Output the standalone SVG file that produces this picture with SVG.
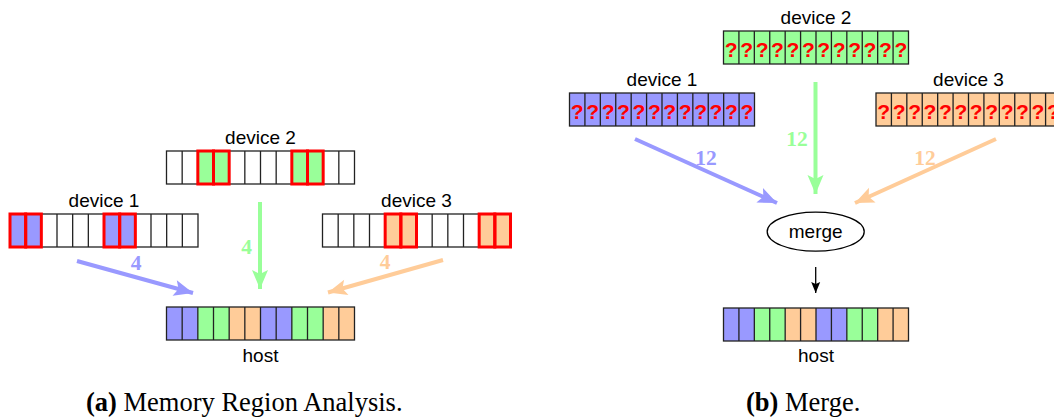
<svg xmlns="http://www.w3.org/2000/svg" xmlns:xlink="http://www.w3.org/1999/xlink" width="1054" height="419" viewBox="0 0 1054 419">
<style>
  .lbl { font-family: "Liberation Sans", Arial, sans-serif; font-size: 19px; fill: #000; text-anchor: middle; }
  .num { font-family: "Liberation Serif", "Times New Roman", serif; font-size: 21.5px; font-weight: bold; text-anchor: middle; }
  .q { font-family: "Liberation Sans", Arial, sans-serif; font-size: 21px; font-weight: bold; fill: #ff0000; text-anchor: middle; }
  .cap { font-family: "Liberation Serif", "Times New Roman", serif; font-size: 26.5px; fill: #000; }
  .grid { fill: none; stroke: #222; stroke-width: 1.3; }
  .hl { fill: none; stroke: #ff0000; stroke-width: 3; }
  .b { fill: #9999ff; }
  .g { fill: #99ff99; }
  .o { fill: #ffcc99; }
  .ab { stroke: #9999ff; stroke-width: 4; fill: none; marker-end: url(#hb); }
  .ag { stroke: #99ff99; stroke-width: 4; fill: none; marker-end: url(#hg); }
  .ao { stroke: #ffcc99; stroke-width: 4; fill: none; marker-end: url(#ho); }
  .ak { stroke: #000; stroke-width: 1.3; fill: none; marker-end: url(#hk); }
</style>
<defs>
  <marker id="hb" markerUnits="userSpaceOnUse" markerWidth="20" markerHeight="16" refX="19" refY="8" orient="auto" overflow="visible"><path d="M0,0 L19,8 L0,16 L4,8 z" fill="#9999ff"/></marker>
  <marker id="hg" markerUnits="userSpaceOnUse" markerWidth="20" markerHeight="16" refX="19" refY="8" orient="auto" overflow="visible"><path d="M0,0 L19,8 L0,16 L4,8 z" fill="#99ff99"/></marker>
  <marker id="ho" markerUnits="userSpaceOnUse" markerWidth="20" markerHeight="16" refX="19" refY="8" orient="auto" overflow="visible"><path d="M0,0 L19,8 L0,16 L4,8 z" fill="#ffcc99"/></marker>
  <marker id="hk" markerUnits="userSpaceOnUse" markerWidth="12" markerHeight="10" refX="11" refY="4.5" orient="auto" overflow="visible"><path d="M0,0 L11,4.5 L0,9 L2,4.5 z" fill="#000"/></marker>
  <g id="gridL">
    <rect x="0" y="0" width="188" height="33" class="grid"/>
    <path class="grid" d="M15.67,0V33M31.33,0V33M47,0V33M62.67,0V33M78.33,0V33M94,0V33M109.67,0V33M125.33,0V33M141,0V33M156.67,0V33M172.33,0V33"/>
  </g>
  <g id="gridR">
    <rect x="0" y="0" width="185" height="33" class="grid"/>
    <path class="grid" d="M15.42,0V33M30.83,0V33M46.25,0V33M61.67,0V33M77.08,0V33M92.5,0V33M107.92,0V33M123.33,0V33M138.75,0V33M154.17,0V33M169.58,0V33"/>
  </g>
  <text id="qs" class="q" x="7.71 23.13 38.54 53.96 69.38 84.79 100.21 115.63 131.04 146.46 161.88 177.29" y="26">????????????</text>
</defs>

<!-- Panel (a) -->
<g id="a-device2" transform="translate(166.5,151)">
  <rect class="g" x="31.33" y="0" width="31.34" height="33"/>
  <rect class="g" x="125.33" y="0" width="31.34" height="33"/>
  <use href="#gridL"/>
  <rect class="hl" x="31.33" y="0" width="15.67" height="33"/>
  <rect class="hl" x="47" y="0" width="15.67" height="33"/>
  <rect class="hl" x="125.33" y="0" width="15.67" height="33"/>
  <rect class="hl" x="141" y="0" width="15.67" height="33"/>
  <text class="lbl" x="94" y="-7">device 2</text>
</g>
<g id="a-device1" transform="translate(10,214)">
  <rect class="b" x="0" y="0" width="31.33" height="33"/>
  <rect class="b" x="94" y="0" width="31.33" height="33"/>
  <use href="#gridL"/>
  <rect class="hl" x="0" y="0" width="15.67" height="33"/>
  <rect class="hl" x="15.67" y="0" width="15.67" height="33"/>
  <rect class="hl" x="94" y="0" width="15.67" height="33"/>
  <rect class="hl" x="109.67" y="0" width="15.67" height="33"/>
  <text class="lbl" x="94" y="-7">device 1</text>
</g>
<g id="a-device3" transform="translate(322.5,214)">
  <rect class="o" x="62.67" y="0" width="31.33" height="33"/>
  <rect class="o" x="156.67" y="0" width="31.33" height="33"/>
  <use href="#gridL"/>
  <rect class="hl" x="62.67" y="0" width="15.67" height="33"/>
  <rect class="hl" x="78.33" y="0" width="15.67" height="33"/>
  <rect class="hl" x="156.67" y="0" width="15.67" height="33"/>
  <rect class="hl" x="172.33" y="0" width="15.67" height="33"/>
  <text class="lbl" x="94" y="-7">device 3</text>
</g>
<g id="a-host" transform="translate(166.5,307)">
  <rect class="b" x="0" y="0" width="31.33" height="33"/>
  <rect class="g" x="31.33" y="0" width="31.34" height="33"/>
  <rect class="o" x="62.67" y="0" width="31.33" height="33"/>
  <rect class="b" x="94" y="0" width="31.33" height="33"/>
  <rect class="g" x="125.33" y="0" width="31.34" height="33"/>
  <rect class="o" x="156.67" y="0" width="31.33" height="33"/>
  <use href="#gridL"/>
  <text class="lbl" x="94" y="55">host</text>
</g>

<!-- Panel (b) -->
<g id="b-device2" transform="translate(723.5,31)">
  <rect class="g" x="0" y="0" width="185" height="33"/>
  <use href="#gridR"/>
  <use href="#qs"/>
  <text class="lbl" x="92.5" y="-7">device 2</text>
</g>
<g id="b-device1" transform="translate(569.5,93)">
  <rect class="b" x="0" y="0" width="185" height="33"/>
  <use href="#gridR"/>
  <use href="#qs"/>
  <text class="lbl" x="92.5" y="-7">device 1</text>
</g>
<g id="b-device3" transform="translate(876,93)">
  <rect class="o" x="0" y="0" width="185" height="33"/>
  <use href="#gridR"/>
  <use href="#qs"/>
  <text class="lbl" x="92.5" y="-7">device 3</text>
</g>
<g id="b-merge">
  <ellipse cx="815.7" cy="231.7" rx="48.5" ry="19.5" fill="#fff" stroke="#000" stroke-width="1.3"/>
  <text class="lbl" x="815.7" y="238">merge</text>
</g>
<g id="b-host" transform="translate(723.5,308)">
  <rect class="b" x="0" y="0" width="30.83" height="33"/>
  <rect class="g" x="30.83" y="0" width="30.84" height="33"/>
  <rect class="o" x="61.67" y="0" width="30.83" height="33"/>
  <rect class="b" x="92.5" y="0" width="30.83" height="33"/>
  <rect class="g" x="123.33" y="0" width="30.84" height="33"/>
  <rect class="o" x="154.17" y="0" width="30.83" height="33"/>
  <use href="#gridR"/>
  <text class="lbl" x="92.5" y="54">host</text>
</g>

<!-- Connectors -->
<g id="connectors">
  <line class="ab" x1="77" y1="261" x2="193" y2="293"/>
  <line class="ag" x1="260" y1="202" x2="260" y2="289"/>
  <line class="ao" x1="443" y1="260" x2="328" y2="292.5"/>
  <text class="num" fill="#9999ff" x="136" y="270">4</text>
  <text class="num" fill="#99ff99" x="246.5" y="254">4</text>
  <text class="num" fill="#ffcc99" x="385" y="269">4</text>

  <line class="ab" x1="635" y1="139" x2="777" y2="203"/>
  <line class="ag" x1="815.5" y1="82" x2="815.5" y2="194"/>
  <line class="ao" x1="996" y1="139" x2="855" y2="203"/>
  <text class="num" fill="#9999ff" x="706" y="164.5">12</text>
  <text class="num" fill="#99ff99" x="797" y="145.5">12</text>
  <text class="num" fill="#ffcc99" x="925" y="164.5">12</text>

  <line class="ak" x1="815.7" y1="267" x2="815.7" y2="293"/>
</g>

<!-- Captions -->
<text class="cap" x="86" y="411"><tspan font-weight="bold">(a)</tspan> Memory Region Analysis.</text>
<text class="cap" x="746" y="411" font-size="28"><tspan font-weight="bold">(b)</tspan> Merge.</text>
</svg>
